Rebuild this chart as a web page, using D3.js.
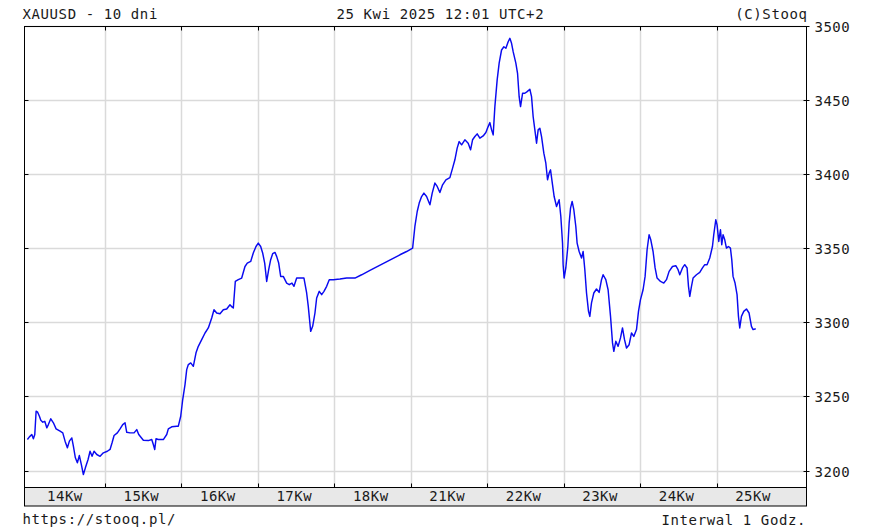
<!DOCTYPE html>
<html><head><meta charset="utf-8">
<script src="https://cdn.jsdelivr.net/npm/d3@7"></script>
<style>body{margin:0;background:#fff}svg{display:block}</style>
</head><body>
<svg id="c" width="885" height="531"></svg>
<script>
// ---- data ----
const title = "XAUUSD - 10 dni";
const stamp = "25 Kwi 2025 12:01 UTC+2";
const copy = "(C)Stooq";
const url = "https://stooq.pl/";
const interval = "Interwal 1 Godz.";
const dayLabels = ["14Kw","15Kw","16Kw","17Kw","18Kw","21Kw","22Kw","23Kw","24Kw","25Kw"];
const priceTicks = [3200,3250,3300,3350,3400,3450,3500];
const hoursPerDay = 23;
// trading-hour index (0 = start of first session)
const hourIndex = [
-0.33,0.27,0.99,1.47,1.89,2.29,2.68,3.28,3.70,4.30,4.90,5.50,5.98,6.70,7.49,8.30,9.50,10.31,11.00,11.70,
12.30,13.02,13.50,14.10,14.70,15.30,15.90,16.51,17.11,17.92,18.52,19.12,19.72,20.54,21.53,22.52,23.72,24.53,25.14,25.74,
26.73,27.54,28.35,29.04,29.55,30.55,31.75,32.56,33.16,34.55,36.05,37.07,37.55,37.97,38.36,39.06,40.56,41.58,42.06,43.08,
44.59,45.07,45.79,46.39,47.08,47.59,48.08,48.80,49.58,50.39,51.08,52.10,53.10,54.09,55.11,55.80,56.61,57.61,58.60,59.62,
60.61,61.21,61.61,62.21,63.11,64.13,65.12,65.81,66.84,67.62,68.43,69.12,69.84,70.44,71.05,71.65,72.25,72.85,73.45,74.14,
74.65,75.26,75.86,76.64,77.66,78.44,79.25,79.86,80.67,82.17,82.86,83.67,84.16,84.88,85.48,86.17,86.68,87.46,88.19,88.88,
89.69,90.47,91.67,93.69,95.70,98.20,100.21,102.71,111.73,113.74,115.55,116.23,116.93,117.53,118.25,118.94,119.75,120.75,121.44,122.25,
122.94,123.75,124.56,125.56,126.76,127.57,128.26,128.95,129.55,130.28,131.27,132.26,132.98,133.58,134.28,134.97,135.78,136.77,137.58,138.27,
138.79,139.30,139.78,140.29,140.98,141.58,142.30,143.00,143.60,144.29,144.80,145.31,145.79,146.60,147.11,147.59,148.01,148.62,149.31,150.00,
150.81,151.32,151.80,152.32,152.83,153.31,153.82,154.33,155.02,155.62,156.13,156.61,157.03,157.64,158.12,158.84,159.62,160.13,160.64,160.82,
161.12,161.63,162.24,162.63,163.05,163.53,164.04,164.64,165.03,165.64,166.36,166.84,167.35,167.86,168.46,168.85,169.36,170.05,170.86,171.65,
172.37,172.85,173.66,174.35,175.08,175.68,176.07,176.67,177.36,178.08,178.68,179.29,179.89,180.67,181.39,182.08,182.89,183.49,184.09,184.87,
185.48,186.08,186.68,187.19,187.88,188.49,189.09,190.11,191.10,191.91,192.70,193.72,194.71,195.40,195.91,196.72,197.41,198.11,198.53,198.92,
199.43,199.91,200.93,201.92,202.74,203.43,204.12,204.93,205.74,206.13,206.74,207.13,207.64,208.15,208.54,208.93,209.44,209.95,210.55,211.15,
211.55,211.94,212.54,213.14,213.56,213.95,214.46,215.16,215.97,216.75,217.47,217.95,218.76
];
const price = [
3220.9,3222.7,3224.3,3221.4,3224.3,3240.0,3239.6,3236.6,3233.9,3232.6,3233.2,3228.8,3231.0,3234.9,3232.2,3228.1,3226.5,3225.4,3219.8,3215.3,
3219.8,3222.0,3216.4,3208.6,3205.2,3210.1,3204.0,3197.3,3201.8,3207.4,3213.0,3209.6,3213.0,3210.8,3209.6,3211.9,3213.0,3214.2,3218.7,3223.6,
3225.4,3228.1,3231.0,3232.2,3225.8,3225.4,3225.4,3227.6,3224.3,3220.4,3220.2,3220.9,3217.5,3214.2,3221.4,3220.9,3220.9,3224.3,3228.1,3229.5,
3229.9,3229.9,3236.6,3247.9,3258.0,3268.1,3271.5,3272.6,3270.3,3279.4,3283.8,3288.3,3292.8,3296.2,3302.9,3308.5,3306.3,3305.8,3308.5,3309.0,
3311.9,3310.4,3309.7,3327.6,3328.8,3329.9,3337.7,3340.0,3341.1,3346.8,3351.2,3353.5,3351.2,3346.8,3340.0,3327.6,3335.5,3342.3,3346.3,3347.2,
3344.5,3340.0,3331.0,3331.0,3326.5,3325.4,3326.5,3324.3,3329.9,3329.9,3329.9,3319.8,3310.8,3293.9,3297.3,3306.3,3316.4,3320.9,3318.7,3320.9,
3324.3,3328.8,3328.8,3329.2,3329.9,3329.9,3332.1,3335.0,3345.6,3347.8,3350.1,3364.7,3374.8,3380.5,3384.9,3387.2,3384.9,3379.3,3387.2,3394.0,
3391.7,3387.6,3392.8,3396.2,3397.7,3404.1,3409.7,3417.6,3422.0,3419.8,3423.2,3420.9,3416.4,3423.2,3425.4,3427.2,3424.3,3425.8,3428.1,3432.1,
3434.8,3429.9,3426.5,3445.6,3463.6,3474.9,3483.8,3486.0,3485.0,3489.4,3491.7,3488.3,3482.7,3474.9,3468.1,3452.3,3445.6,3454.6,3454.6,3455.7,
3457.3,3452.3,3438.9,3429.9,3420.9,3429.9,3431.0,3425.4,3414.2,3407.4,3396.2,3400.7,3402.9,3392.8,3384.9,3378.2,3382.7,3371.4,3353.5,3338.9,
3329.9,3336.7,3351.2,3367.0,3377.1,3381.6,3376.0,3364.7,3353.5,3347.8,3343.4,3347.8,3335.5,3319.8,3307.4,3304.0,3313.1,3319.8,3322.5,3320.2,
3328.8,3332.1,3328.8,3322.0,3304.0,3286.1,3280.4,3287.2,3283.8,3289.5,3296.2,3288.3,3282.7,3284.9,3292.8,3290.5,3295.1,3307.4,3315.3,3322.0,
3331.0,3349.0,3359.1,3355.7,3347.8,3336.7,3329.9,3327.6,3326.5,3328.8,3334.4,3337.7,3338.2,3335.5,3332.1,3336.7,3338.9,3336.7,3324.3,3317.5,
3324.3,3329.9,3332.1,3333.7,3336.7,3338.9,3338.9,3343.4,3351.2,3359.1,3369.2,3365.8,3354.6,3362.5,3352.4,3359.1,3355.7,3350.1,3351.2,3350.1,
3342.3,3331.0,3326.5,3318.7,3304.0,3296.2,3304.0,3307.4,3309.0,3306.3,3297.3,3295.1,3295.7
];

// ---- layout ----
const W = 885, H = 531;
const plot = {left: 24.5, right: 806.5, top: 26.5, bottom: 487.5};
const band = {top: 487.5, bottom: 506};
const mono = "'DejaVu Sans Mono', 'Liberation Mono', monospace";
const txt = "#1a1a1a";

const svg = d3.select("#c");
svg.append("rect").attr("width", W).attr("height", H).attr("fill", "#fff");

const x = d3.scaleLinear().domain([0, 10 * hoursPerDay]).range([28.5, 28.5 + 10 * 76.46]);
const y = d3.scaleLinear().domain([3200, 3500]).range([470.5, 26]);

const dayBounds = d3.range(1, dayLabels.length).map(k => k * hoursPerDay);
const labelPos = dayLabels.map((d, k) => k * hoursPerDay + 10.8);

// grid
const grid = svg.append("g").attr("stroke", "#dadada").attr("stroke-width", 1.5);
grid.selectAll("line.v").data(dayBounds).join("line")
  .attr("x1", d => Math.round(x(d)) + 0.5).attr("x2", d => Math.round(x(d)) + 0.5)
  .attr("y1", plot.top).attr("y2", plot.bottom);
grid.selectAll("line.h").data(priceTicks).join("line")
  .attr("x1", plot.left).attr("x2", plot.right)
  .attr("y1", d => Math.round(y(d)) + 0.5).attr("y2", d => Math.round(y(d)) + 0.5);

// x label band
svg.append("rect").attr("x", plot.left).attr("y", band.top)
  .attr("width", plot.right - plot.left).attr("height", band.bottom - band.top)
  .attr("fill", "#e8e8e8").attr("stroke", "#000").attr("stroke-width", 1);

// line
const pts = hourIndex.map((h, i) => [h, price[i]]);
svg.append("path").datum(pts)
  .attr("fill", "none").attr("stroke", "#0a0af0").attr("stroke-width", 1.45)
  .attr("stroke-linejoin", "round")
  .attr("d", d3.line().x(d => x(d[0])).y(d => y(d[1])));

// frame
svg.append("rect").attr("x", plot.left).attr("y", plot.top)
  .attr("width", plot.right - plot.left).attr("height", plot.bottom - plot.top)
  .attr("fill", "none").attr("stroke", "#000").attr("stroke-width", 1);

// ticks on frame
const tk = svg.append("g").attr("stroke", "#000").attr("stroke-width", 1);
tk.selectAll("line.t").data(dayBounds).join("line")
  .attr("x1", d => Math.round(x(d)) + 0.5).attr("x2", d => Math.round(x(d)) + 0.5)
  .attr("y1", plot.top).attr("y2", plot.top + 4);
tk.selectAll("line.b").data(dayBounds).join("line")
  .attr("x1", d => Math.round(x(d)) + 0.5).attr("x2", d => Math.round(x(d)) + 0.5)
  .attr("y1", plot.bottom).attr("y2", plot.bottom - 4);
tk.selectAll("line.l").data(priceTicks).join("line")
  .attr("x1", plot.left).attr("x2", plot.left + 4)
  .attr("y1", d => Math.round(y(d)) + 0.5).attr("y2", d => Math.round(y(d)) + 0.5);

// right axis
const ra = svg.append("g").attr("transform", `translate(${plot.right},0)`)
  .call(d3.axisRight(y).tickValues(priceTicks).tickSize(3).tickPadding(5).tickFormat(d3.format("d")));
ra.select(".domain").remove();
ra.selectAll(".tick line").attr("stroke", "#000").attr("x1", -3);
ra.selectAll(".tick").attr("transform", d => `translate(0,${Math.round(y(d)) + 0.5})`);
ra.selectAll("text").attr("font-family", mono).attr("font-size", 14)
  .attr("letter-spacing", "0.5px").attr("fill", txt).attr("dy", "0.36em");

// bottom day labels
const ba = svg.append("g").attr("transform", `translate(0,${band.top})`)
  .call(d3.axisBottom(x).tickValues(labelPos).tickSize(0).tickPadding(0)
    .tickFormat((d, i) => dayLabels[i]));
ba.select(".domain").remove();
ba.selectAll("text").attr("font-family", mono).attr("font-size", 14)
  .attr("letter-spacing", "0.5px").attr("fill", txt).attr("y", 13.5).attr("dy", 0);

// header & footer
function label(s, px, py, anchor) {
  svg.append("text").text(s).attr("x", px).attr("y", py)
    .attr("text-anchor", anchor).attr("font-family", mono).attr("font-size", 14)
    .attr("letter-spacing", "0.6px").attr("fill", txt);
}
label(title, 22.5, 18.5, "start");
label(stamp, 336.5, 18.5, "start");
label(copy, 807.5, 18.5, "end");
label(url, 22.5, 523.5, "start");
label(interval, 806, 524.5, "end");
</script>
</body></html>
